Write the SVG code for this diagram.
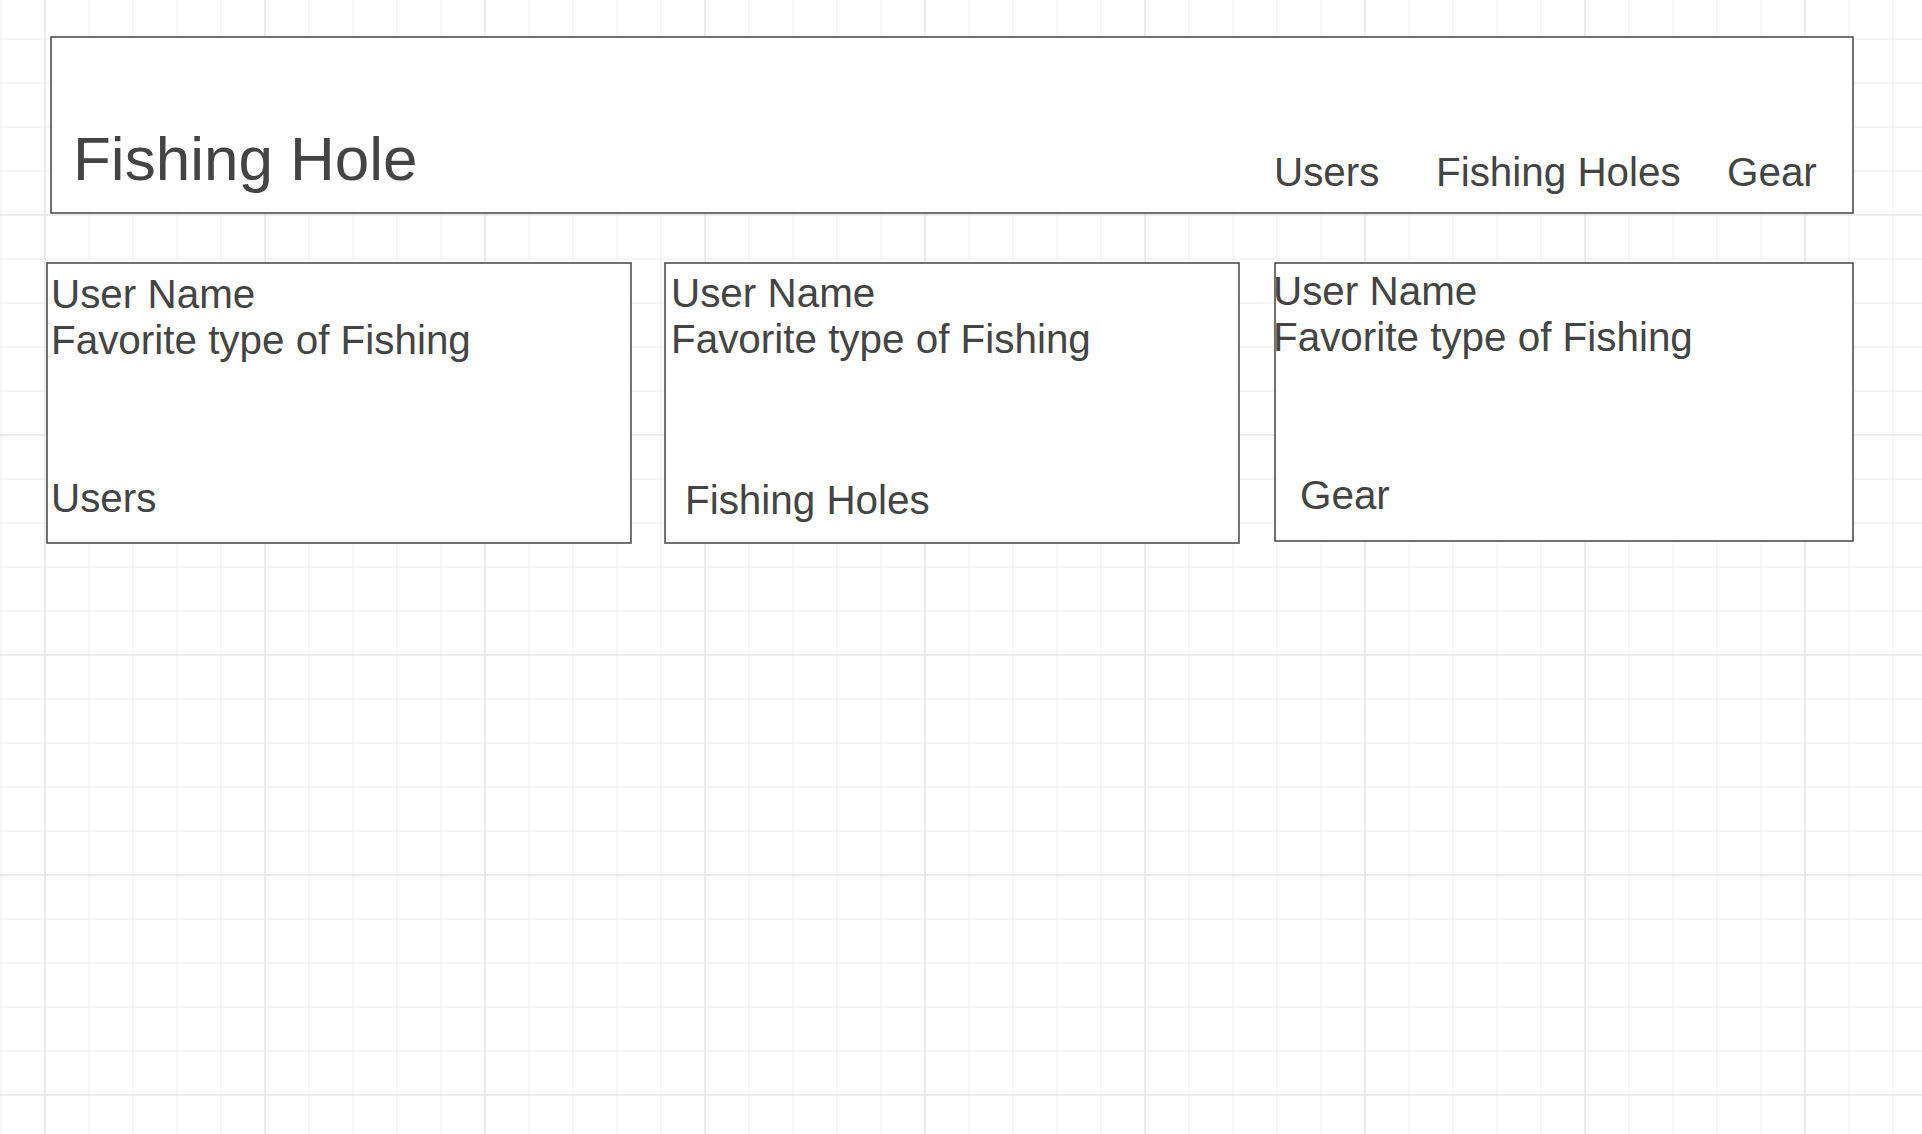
<svg xmlns="http://www.w3.org/2000/svg" width="1922" height="1134" viewBox="0 0 1922 1134">
  <defs>
    <pattern id="minor" patternUnits="userSpaceOnUse" x="0.5" y="38.5" width="44" height="44">
      <path d="M 0 0 H 44 M 0 0 V 44" fill="none" stroke="#e9e9e9" stroke-width="1.3"/>
    </pattern>
    <pattern id="major" patternUnits="userSpaceOnUse" x="44.5" y="214.5" width="220" height="220">
      <path d="M 0 0 H 220 M 0 0 V 220" fill="none" stroke="#dcdcdc" stroke-width="1.5"/>
    </pattern>
    <style>
      .box { fill: #ffffff; stroke: #444444; stroke-width: 1.5; }
      .t { font-family: "Liberation Sans", Arial, sans-serif; fill: #444444; font-size: 40.4px; }
      .title { font-family: "Liberation Sans", Arial, sans-serif; fill: #444444; font-size: 62px; }
    </style>
  </defs>
  <rect x="0" y="0" width="1922" height="1134" fill="#ffffff"/>
  <rect x="0" y="0" width="1922" height="1134" fill="url(#minor)"/>
  <rect x="0" y="0" width="1922" height="1134" fill="url(#major)"/>

  <g id="header">
    <rect class="box" x="51" y="37" width="1802" height="176"/>
    <text class="title" x="73" y="180">Fishing Hole</text>
    <text class="t" x="1274" y="186">Users</text>
    <text class="t" x="1436" y="186">Fishing Holes</text>
    <text class="t" x="1727" y="186">Gear</text>
  </g>

  <g id="users-card">
    <rect class="box" x="47" y="263" width="584" height="280"/>
    <text class="t" x="51" y="308">User Name</text>
    <text class="t" x="51" y="354">Favorite type of Fishing</text>
    <text class="t" x="51" y="512">Users</text>
  </g>

  <g id="fishing-holes-card">
    <rect class="box" x="665" y="263" width="574" height="280"/>
    <text class="t" x="671" y="307">User Name</text>
    <text class="t" x="671" y="353">Favorite type of Fishing</text>
    <text class="t" x="685" y="514">Fishing Holes</text>
  </g>

  <g id="gear-card">
    <rect class="box" x="1275" y="263" width="578" height="278"/>
    <text class="t" x="1273" y="305">User Name</text>
    <text class="t" x="1273" y="351">Favorite type of Fishing</text>
    <text class="t" x="1300" y="509">Gear</text>
  </g>

  <g id="connectors"></g>
</svg>
